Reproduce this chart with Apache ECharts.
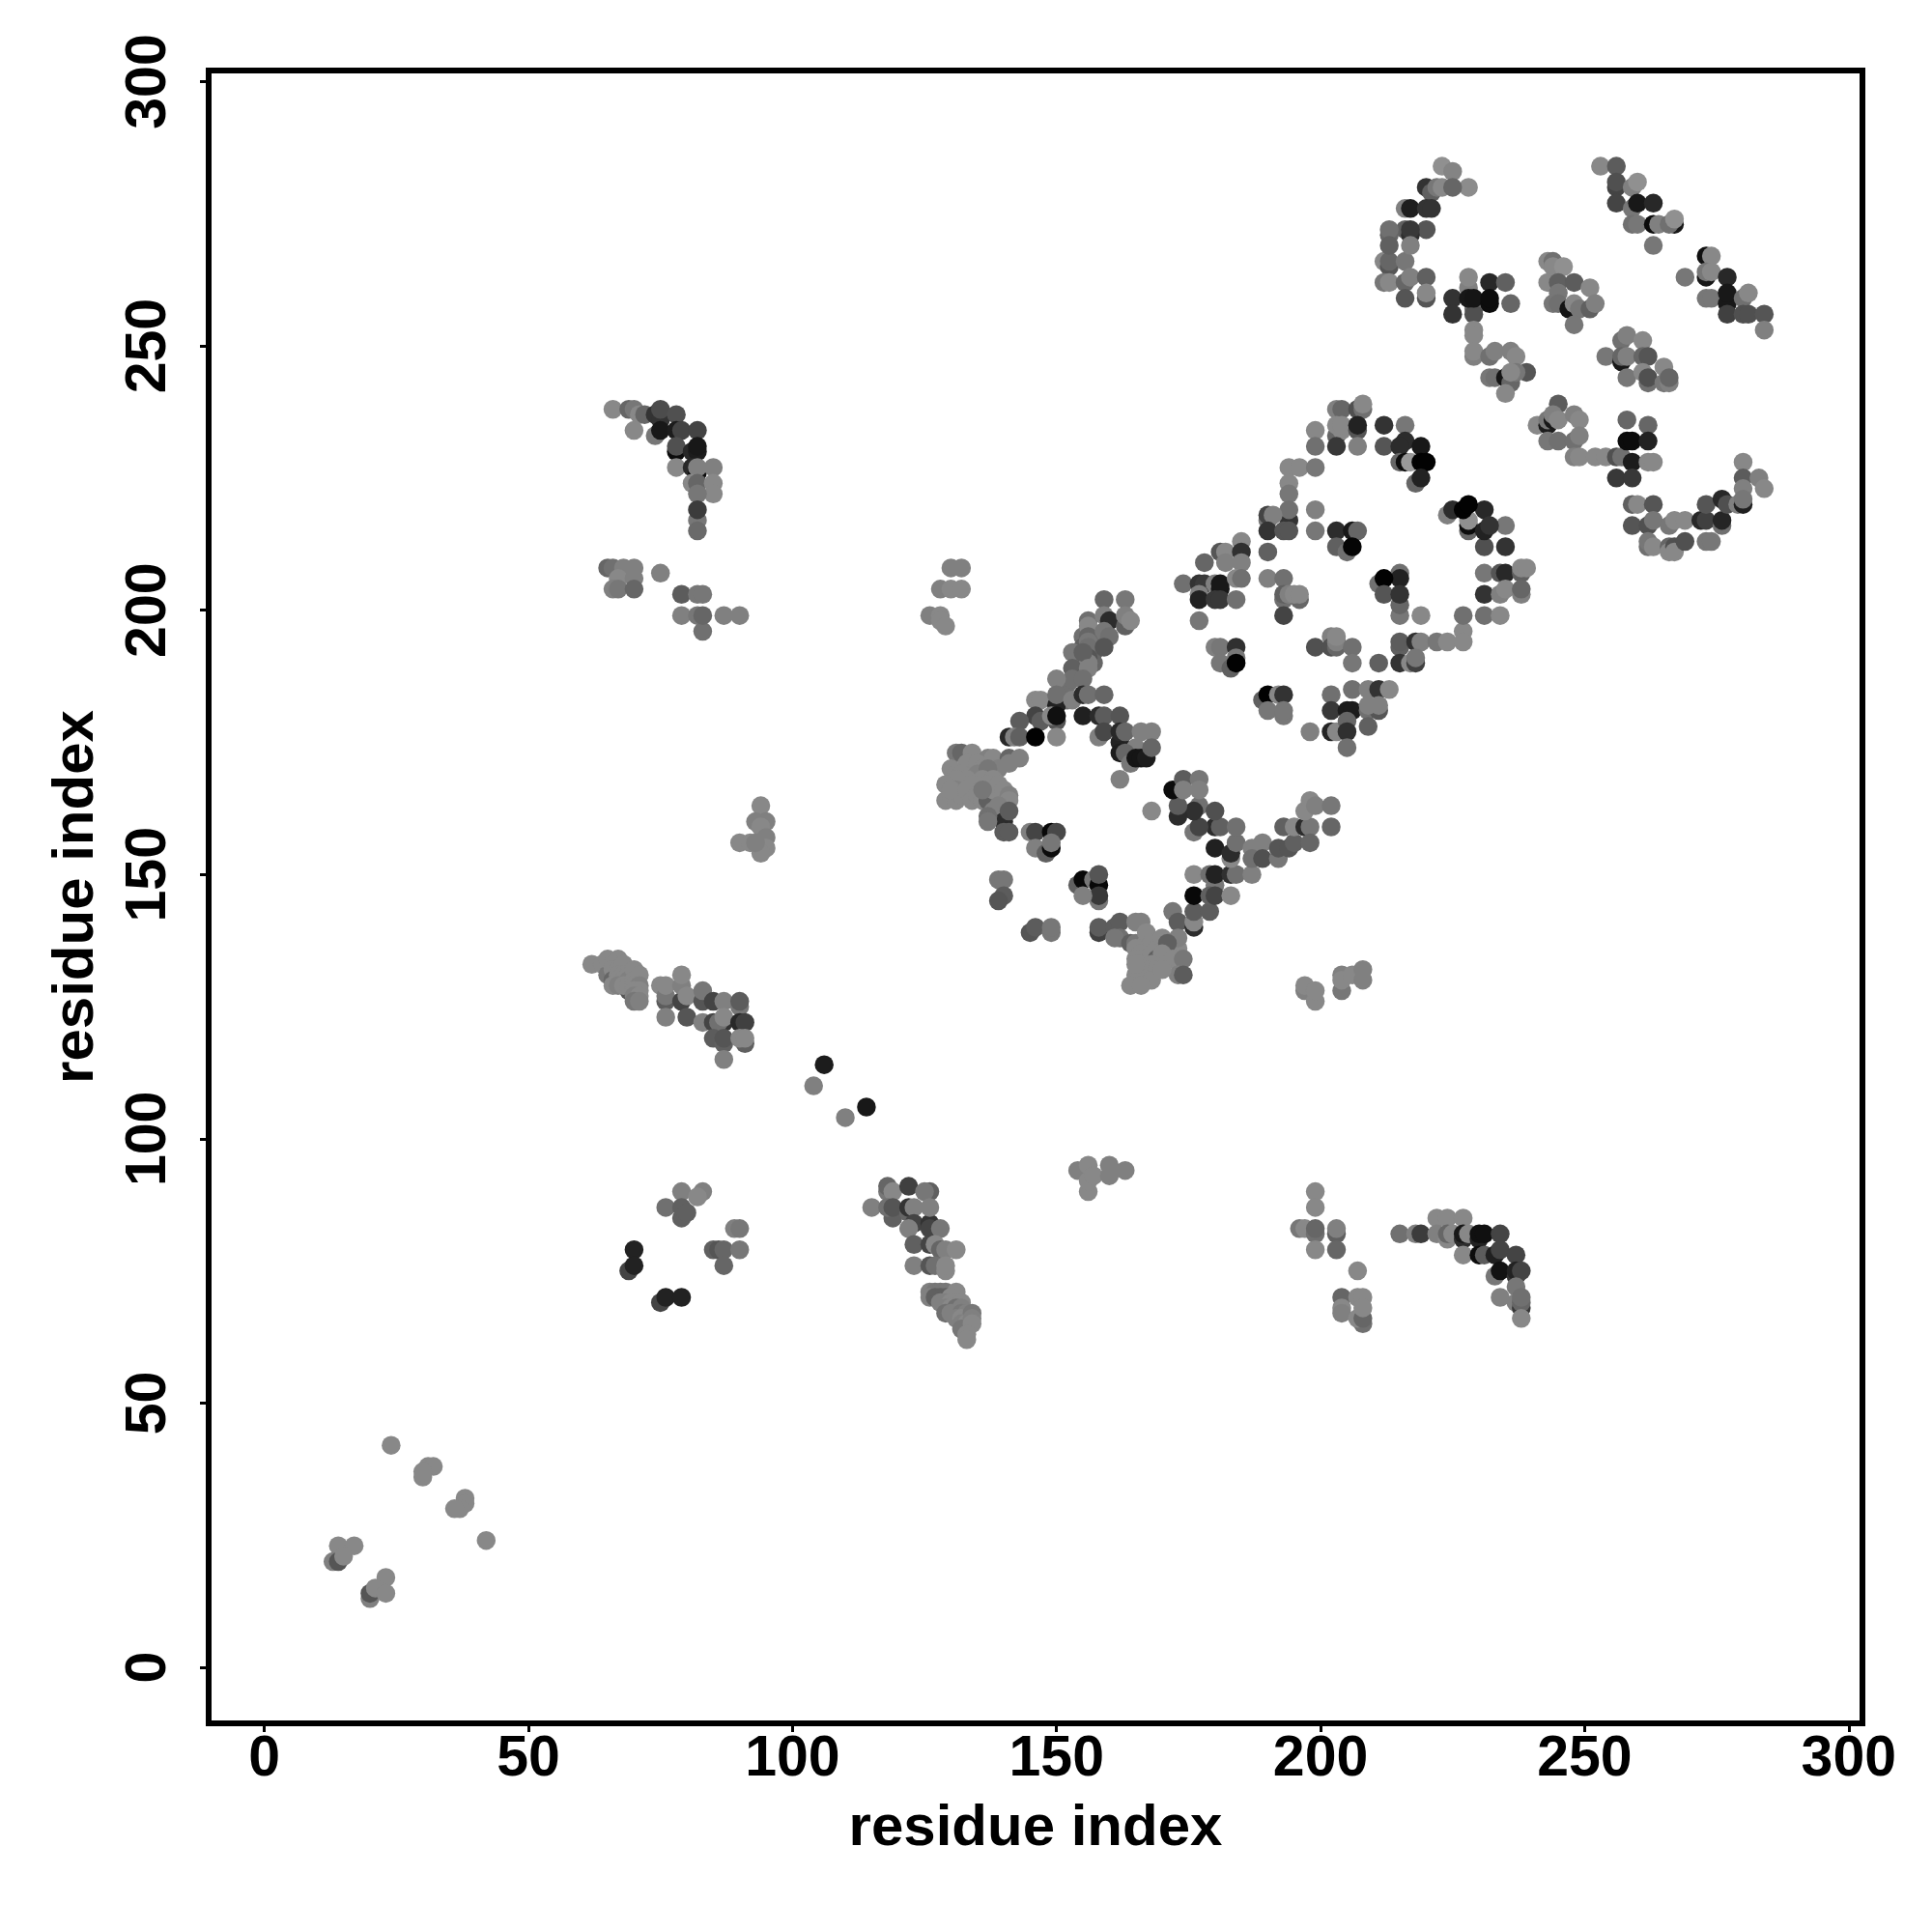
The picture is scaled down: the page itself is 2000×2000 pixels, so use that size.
<!DOCTYPE html>
<html><head><meta charset="utf-8">
<script src="https://cdn.jsdelivr.net/npm/echarts@6/dist/echarts.min.js"></script>
<style>html,body{margin:0;background:#fff}#c{width:2000px;height:2000px}</style></head>
<body><div id="c"></div>
<script>
// each contact: [residue x, residue y, grey shade 0-255]
const tickValues=[0,50,100,150,200,250,300];
const axisTitle='residue index';
const topLeftArc=[[223,284,0x90],[225,283,0x84],[228,280,0x8c],[220,280,0x33],[221,279,0x60],[222,280,0x77],[223,280,0x88],[225,280,0x66],[216,276,0x80],[217,276,0x1e],[220,276,0x33],[221,276,0x33],[220,272,0x55],[216,272,0x60],[217,271,0x2e],[217,272,0x38],[213,271,0x66],[213,272,0x70],[212,266,0x88],[213,265,0x55],[213,266,0x66],[213,269,0x60],[216,266,0x77],[217,269,0x80],[212,262,0x77],[213,262,0x88],[216,262,0x66],[217,263,0x80],[220,263,0x60],[216,259,0x55],[220,259,0x55],[220,260,0x88]];
const topMidLink=[[225,259,0x33],[225,256,0x33],[228,261,0x80],[228,263,0x88],[232,262,0x28],[235,262,0x60],[236,258,0x66],[229,257,0x70],[229,256,0x50],[228,259,0x18],[229,259,0x15],[232,258,0x0c],[232,259,0x0c],[229,253,0x88],[229,252,0x88],[229,248,0x80],[229,249,0x88],[232,248,0x70],[233,249,0x80],[236,249,0x80],[237,248,0x88],[239,245,0x55],[232,244,0x77],[233,244,0x70],[235,244,0x15],[236,243,0x66],[237,245,0x77],[236,245,0x88],[235,241,0x88]];
const topRightArc=[[253,284,0x88],[256,284,0x5c],[256,280,0x44],[256,281,0x50],[259,280,0x80],[260,281,0x90],[256,277,0x44],[259,276,0x77],[260,277,0x18],[263,277,0x28],[259,273,0x70],[260,273,0x77],[263,273,0x0c],[264,273,0x80],[267,273,0x18],[266,273,0x70],[267,274,0x90],[263,269,0x77]];
const midCluster=[[243,266,0x88],[244,266,0x70],[244,265,0x88],[246,265,0x90],[243,262,0x88],[245,262,0x60],[248,262,0x5c],[245,260,0x77],[251,261,0x88],[244,258,0x77],[245,258,0x70],[247,257,0x15],[248,258,0x88],[249,257,0x77],[251,257,0x60],[252,258,0x80],[248,254,0x77]];
const farRightArc=[[269,263,0x77],[273,267,0x10],[274,267,0x88],[273,263,0x18],[273,264,0x77],[274,264,0x88],[277,263,0x28],[273,259,0x77],[274,259,0x77],[277,258,0x18],[277,260,0x18],[280,259,0x70],[281,260,0x88],[277,256,0x40],[280,256,0x50],[281,256,0x50],[284,256,0x55],[284,253,0x80]];
const lowerCluster=[[257,251,0x70],[258,252,0x80],[261,251,0x88],[254,248,0x77],[257,247,0x18],[257,248,0x66],[258,248,0x80],[261,248,0x66],[262,248,0x55],[265,246,0x88],[258,244,0x77],[261,245,0x88],[262,243,0x70],[262,244,0x50],[265,243,0x77],[266,243,0x80],[266,244,0x66]];
const turnCluster=[[245,239,0x5c],[241,235,0x88],[243,235,0x1c],[243,236,0x77],[244,236,0x18],[244,237,0x80],[245,236,0x88],[248,237,0x80],[249,236,0x88],[243,232,0x77],[245,232,0x70],[248,232,0x70],[249,233,0x80],[248,229,0x80],[249,229,0x88],[252,229,0x88],[254,229,0x88],[256,229,0x50],[257,229,0x70],[258,236,0x66],[262,235,0x66],[258,232,0x0c],[259,232,0x0c],[262,232,0x22],[259,228,0x1c],[262,228,0x88],[263,228,0x88],[256,225,0x38],[259,225,0x38]];
const bottomRightArc=[[259,220,0x60],[260,220,0x88],[263,220,0x55],[259,216,0x55],[262,216,0x50],[263,217,0x77],[262,212,0x70],[262,213,0x77],[263,212,0x88],[266,212,0x66],[266,211,0x88],[267,212,0x50],[267,211,0x88],[269,213,0x50],[266,216,0x77],[267,217,0x88],[269,217,0x88],[272,217,0x28],[273,217,0x40],[273,213,0x77],[274,213,0x77],[273,220,0x55],[276,216,0x70],[276,217,0x25],[276,221,0x28],[277,220,0x50],[279,220,0x80],[280,228,0x88],[280,225,0x5c],[280,223,0x80],[280,220,0x20],[280,221,0x77],[283,225,0x80],[284,223,0x88]];
const ringTop=[[203,238,0x80],[204,238,0x66],[207,238,0x50],[208,238,0x70],[208,239,0x88],[199,234,0x88],[203,233,0x66],[203,235,0x88],[204,234,0x88],[204,235,0x88],[207,234,0x55],[207,235,0x22],[212,235,0x33],[216,235,0x77],[199,231,0x70],[203,231,0x38],[207,231,0x80],[212,231,0x55],[216,232,0x2c],[215,231,0x2c],[219,231,0x18],[215,228,0x66],[216,228,0x0c],[217,228,0x99],[219,228,0x02],[220,228,0x02],[218,224,0x66],[219,225,0x22]];
const ringLeft=[[194,227,0x88],[196,227,0x88],[199,227,0x77],[194,224,0x88],[194,222,0x77],[194,217,0x33],[194,219,0x70],[190,217,0x77],[190,218,0x44],[191,218,0x80],[190,215,0x33],[193,215,0x55],[194,215,0x55],[199,219,0x80],[199,215,0x77],[203,215,0x2c],[206,215,0x18],[207,215,0x66],[203,212,0x60],[205,211,0x70],[206,212,0x05],[190,211,0x60],[185,213,0x88],[181,211,0x55],[182,211,0x88],[185,211,0x30],[185,209,0x80],[182,209,0x80],[178,209,0x66],[174,205,0x70],[177,205,0x33],[178,205,0x3a],[180,205,0x80],[181,204,0x18],[181,205,0x18],[184,206,0x88],[185,206,0x70],[177,203,0x80],[177,202,0x22],[180,202,0x38],[181,202,0x38],[184,202,0x70],[177,198,0x77],[190,206,0x80],[193,206,0x70],[193,202,0x70],[193,203,0x60],[194,203,0x80],[196,202,0x66],[195,203,0x88],[196,203,0x88],[193,199,0x44]];
const ringBottom=[[180,193,0x80],[181,193,0x77],[184,193,0x30],[184,191,0x77],[181,190,0x77],[183,189,0x60],[184,190,0x02],[199,193,0x50],[202,195,0x80],[202,193,0x50],[203,193,0x66],[203,194,0x80],[203,195,0x88],[206,193,0x70],[206,190,0x77],[211,190,0x60],[215,193,0x60],[215,194,0x5c],[218,194,0x30],[219,194,0x80],[222,194,0x77],[224,194,0x88],[227,196,0x88],[227,194,0x88],[227,199,0x70],[215,199,0x77],[219,199,0x88],[231,199,0x70],[234,199,0x88],[215,190,0x33],[217,190,0x88],[218,190,0x40],[218,191,0x77]];
const ringRight=[[231,207,0x77],[234,207,0x55],[235,207,0x28],[238,207,0x60],[238,208,0x88],[239,208,0x88],[231,203,0x33],[234,203,0x80],[235,204,0x88],[238,203,0x80],[238,204,0x66],[235,216,0x77],[235,212,0x33],[231,212,0x50],[231,219,0x28],[224,218,0x80],[225,219,0x2c],[228,215,0x66],[228,216,0x0c],[228,217,0x90],[227,219,0x02],[228,220,0x02],[231,215,0x22],[232,216,0x33]];
const ringInner=[[215,207,0x70],[215,206,0x22],[211,205,0x70],[212,206,0x02],[212,203,0x55],[215,201,0x66],[215,203,0x33]];
const ringFoot=[[189,183,0x60],[190,184,0x02],[192,184,0x88],[193,184,0x33],[190,181,0x77],[193,180,0x77],[193,181,0x77],[202,184,0x70],[206,185,0x70],[209,185,0x80],[211,185,0x33],[213,185,0x88],[202,181,0x38],[205,181,0x1c],[206,181,0x1c],[209,181,0x70],[211,181,0x55],[209,182,0x80],[211,182,0x80],[202,177,0x25],[203,177,0x88],[205,179,0x66],[205,177,0x30],[209,178,0x60],[198,177,0x80],[205,174,0x70]];
const diagUp=[[159,202,0x66],[163,202,0x77],[156,198,0x70],[159,199,0x80],[160,198,0x2c],[163,197,0x60],[163,199,0x80],[164,198,0x88],[155,195,0x70],[155,193,0x60],[154,190,0x66],[157,195,0x70],[157,192,0x60],[157,190,0x66],[154,188,0x60],[152,186,0x70],[152,183,0x70],[156,197,0x88],[156,195,0x66],[156,194,0x77],[156,193,0x70],[156,191,0x55],[156,190,0x80],[159,196,0x77],[160,195,0x70],[159,193,0x55],[153,192,0x77],[155,192,0x60],[153,189,0x60],[156,189,0x80],[153,187,0x70],[155,187,0x70],[150,187,0x80],[146,183,0x88],[147,183,0x88],[150,182,0x22],[150,184,0x70],[153,183,0x80],[155,184,0x2c],[156,184,0x70],[159,184,0x66],[146,180,0x44],[147,179,0x5c],[143,179,0x5c],[150,179,0x55],[149,180,0x88],[150,180,0x10],[155,180,0x20],[158,180,0x2c],[159,180,0x5c],[162,180,0x55],[141,176,0x28],[142,176,0x80],[143,176,0x60],[146,176,0x02],[150,176,0x88],[158,176,0x80],[159,177,0x48],[162,175,0x22],[162,177,0x28],[163,177,0x66],[166,177,0x80],[168,177,0x80],[165,174,0x80],[162,173,0x1c],[163,173,0x66],[164,171,0x77],[165,172,0x15],[166,172,0x15],[167,172,0x1c],[168,174,0x66],[162,168,0x80],[168,162,0x88]];
const leftBlob=[[131,173,0x77],[132,173,0x66],[134,173,0x88],[137,172,0x80],[138,172,0x88],[141,172,0x66],[143,172,0x80],[133,171,0x88],[135,171,0x88],[136,170,0x88],[138,170,0x88],[141,171,0x80],[139,170,0x80],[130,170,0x88],[131,169,0x88],[132,169,0x88],[134,168,0x66],[135,169,0x80],[137,170,0x77],[133,168,0x88],[136,168,0x88],[138,168,0x88],[131,168,0x88],[134,167,0x88],[129,167,0x88],[131,166,0x80],[129,164,0x88],[130,165,0x88],[131,164,0x88],[132,165,0x88],[130,166,0x88],[133,166,0x88],[134,164,0x88],[135,165,0x88],[136,164,0x88],[137,164,0x60],[137,167,0x88],[139,167,0x88],[138,166,0x88],[140,166,0x88],[141,165,0x80],[141,164,0x88],[136,166,0x77],[139,163,0x80],[138,162,0x80],[140,160,0x2c],[141,162,0x5c],[137,161,0x70],[137,160,0x77],[140,158,0x5c],[141,158,0x5c]];
const leftSmall=[[145,158,0x80],[146,158,0x44],[149,158,0x08],[150,158,0x48],[146,155,0x80],[148,154,0x60],[149,155,0x0c],[149,156,0x77],[139,149,0x77],[140,149,0x77],[140,146,0x5c],[139,145,0x55],[145,139,0x55],[146,140,0x5c],[149,139,0x77],[149,140,0x77],[154,148,0x60],[155,149,0x08],[157,149,0x77],[158,148,0x08],[158,150,0x55],[158,145,0x77],[158,146,0x38],[155,146,0x80]];
const bottomBlob=[[158,139,0x40],[158,140,0x5c],[161,140,0x5c],[162,141,0x5c],[165,141,0x80],[166,141,0x80],[162,138,0x70],[161,138,0x77],[164,137,0x60],[165,137,0x77],[167,137,0x88],[167,139,0x88],[168,137,0x88],[169,136,0x88],[165,136,0x88],[166,135,0x88],[165,134,0x88],[168,135,0x88],[170,138,0x88],[172,143,0x77],[173,141,0x5c],[176,140,0x2c],[176,141,0x88],[176,143,0x5c],[179,143,0x5c],[172,136,0x80],[171,136,0x55],[173,136,0x88],[173,138,0x80],[171,137,0x60],[169,134,0x60],[171,134,0x88],[170,135,0x88],[172,134,0x88],[166,133,0x88],[168,133,0x88],[167,132,0x88],[169,132,0x88],[165,131,0x88],[174,134,0x77],[173,131,0x80],[174,131,0x5c],[165,133,0x88],[168,130,0x88],[170,132,0x88],[164,129,0x88],[166,129,0x88]];
const rightChain=[[176,146,0x08],[176,150,0x88],[179,150,0x70],[180,148,0x77],[180,150,0x22],[183,150,0x30],[184,150,0x70],[187,150,0x80],[179,146,0x60],[180,146,0x44],[183,146,0x88],[183,153,0x88],[180,155,0x20],[183,154,0x2c],[184,156,0x70],[180,159,0x2c],[181,159,0x60],[184,159,0x70],[176,158,0x77],[177,159,0x44],[177,163,0x70],[180,162,0x50],[176,162,0x30],[173,161,0x2c],[173,163,0x5c],[172,166,0x0c],[174,168,0x5c],[177,168,0x77],[174,166,0x80],[177,166,0x80],[187,155,0x80],[187,153,0x70],[189,156,0x80],[189,153,0x50],[192,153,0x77],[192,155,0x55],[193,159,0x60],[194,155,0x55],[195,156,0x60],[195,159,0x88],[197,159,0x2c],[198,159,0x77],[198,156,0x66],[197,162,0x88],[198,164,0x88],[199,163,0x80],[202,163,0x77],[202,159,0x66]];
const g130_203=[[130,208,0x80],[132,208,0x80],[128,204,0x80],[130,204,0x88],[132,204,0x88],[126,199,0x80],[128,199,0x88],[128,198,0x88],[129,197,0x88]];
const topLeftBand=[[66,238,0x88],[69,238,0x66],[70,238,0x77],[71,237,0x88],[72,237,0x66],[70,234,0x88],[74,237,0x33],[75,236,0x33],[75,238,0x4c],[78,237,0x50],[74,233,0x77],[75,234,0x18],[78,234,0x1c],[79,234,0x44],[82,234,0x44],[78,230,0x0c],[78,231,0x50],[81,230,0x28],[82,230,0x1c],[82,231,0x18],[78,227,0x88],[81,227,0x28],[82,226,0x0c],[82,227,0x80],[85,227,0x80],[81,224,0x88],[82,224,0x66],[85,224,0x88],[85,222,0x88],[82,222,0x77],[82,217,0x77],[82,219,0x3c],[82,215,0x6a]];
const leftMid=[[65,208,0x66],[66,208,0x70],[68,208,0x80],[70,208,0x80],[67,206,0x88],[70,206,0x80],[66,204,0x80],[67,204,0x77],[70,204,0x66],[75,207,0x80],[79,203,0x5c],[82,203,0x77],[83,203,0x77],[79,199,0x80],[82,199,0x77],[83,196,0x70],[83,199,0x66],[87,199,0x80],[90,199,0x80]];
const midGroup=[[94,163,0x88],[93,160,0x80],[95,160,0x80],[94,159,0x88],[90,156,0x88],[92,156,0x88],[95,157,0x80],[95,155,0x88],[94,154,0x88],[93,156,0x80]];
const band130=[[62,133,0x88],[64,133,0x88],[65,131,0x77],[66,131,0x77],[65,134,0x88],[67,134,0x88],[66,133,0x88],[66,132,0x88],[67,132,0x88],[66,130,0x66],[68,133,0x88],[67,131,0x88],[68,131,0x88],[66,129,0x88],[67,130,0x88],[68,130,0x88],[69,131,0x88],[69,130,0x80],[69,128,0x55],[67,129,0x80],[68,129,0x88],[69,129,0x88],[70,132,0x88],[70,130,0x88],[71,131,0x88],[70,129,0x88],[71,129,0x80],[70,128,0x88],[71,128,0x88],[70,127,0x80],[71,127,0x88],[70,126,0x77],[71,126,0x80],[75,129,0x88],[76,126,0x5c],[76,127,0x77],[76,129,0x88],[76,123,0x80],[79,126,0x44],[79,129,0x80],[79,131,0x88],[80,127,0x88],[80,123,0x55],[83,126,0x55],[83,128,0x77],[85,126,0x44],[87,126,0x80],[90,125,0x77],[90,126,0x5c],[83,122,0x80],[85,122,0x44],[87,122,0x33],[86,122,0x70],[87,123,0x88],[90,122,0x28],[91,122,0x40],[85,119,0x5c],[87,118,0x60],[87,119,0x55],[91,118,0x60],[90,119,0x88],[91,119,0x88],[87,115,0x80]];
const diagonal=[[106,114,0x1c],[104,110,0x80],[110,104,0x80],[114,106,0x18]];
const lowCenter=[[118,90,0x77],[118,91,0x66],[119,90,0x88],[122,91,0x40],[126,90,0x60],[125,90,0x77],[115,87,0x80],[119,85,0x60],[118,87,0x70],[119,87,0x55],[122,86,0x66],[122,87,0x33],[123,87,0x80],[123,84,0x44],[126,84,0x33],[126,87,0x80],[122,83,0x80],[126,83,0x44],[128,83,0x77],[123,80,0x60],[126,80,0x44],[127,80,0x88],[128,79,0x66],[129,79,0x80],[131,79,0x88],[123,76,0x80],[126,76,0x55],[127,76,0x70],[129,75,0x88],[129,76,0x88]];
const lowFan=[[126,71,0x80],[127,71,0x77],[128,71,0x77],[129,71,0x77],[131,71,0x88],[126,70,0x80],[127,70,0x60],[128,70,0x60],[129,70,0x60],[130,70,0x88],[128,69,0x80],[129,69,0x80],[130,69,0x88],[131,69,0x88],[132,69,0x88],[129,68,0x80],[130,68,0x88],[131,68,0x70],[132,68,0x80],[129,67,0x70],[130,67,0x80],[132,67,0x77],[133,67,0x80],[131,66,0x80],[132,66,0x88],[133,66,0x88],[134,67,0x77],[132,65,0x80],[133,65,0x88],[133,64,0x88],[134,66,0x80],[132,64,0x77],[134,65,0x88],[133,63,0x88],[133,62,0x88]];
const lowLeft=[[70,79,0x22],[69,75,0x44],[70,76,0x22],[75,69,0x44],[76,70,0x22],[79,70,0x22],[76,87,0x70],[79,90,0x80],[79,85,0x60],[79,87,0x60],[80,86,0x60],[83,90,0x80],[82,89,0x88],[89,83,0x80],[90,83,0x77],[85,79,0x60],[86,79,0x55],[87,79,0x66],[90,79,0x77],[87,76,0x66]];
const group155=[[154,94,0x80],[156,90,0x88],[156,92,0x88],[156,95,0x88],[157,93,0x88],[160,93,0x80],[160,95,0x80],[163,94,0x80]];
const group200=[[197,128,0x80],[197,129,0x88],[199,126,0x88],[199,128,0x88],[204,128,0x77],[204,131,0x80],[204,130,0x88],[206,131,0x88],[208,132,0x80],[208,130,0x80]];
const lowRight=[[199,90,0x88],[199,87,0x88],[196,83,0x77],[197,83,0x88],[199,82,0x70],[199,83,0x66],[203,82,0x60],[203,83,0x80],[199,79,0x88],[203,79,0x66],[207,75,0x88],[204,70,0x66],[204,68,0x88],[204,67,0x80],[207,70,0x88],[208,70,0x88],[208,65,0x70],[207,66,0x88],[208,66,0x66],[208,68,0x88]];
const lowArc=[[215,82,0x70],[218,82,0x80],[219,82,0x3c],[222,85,0x88],[224,85,0x88],[227,85,0x88],[222,82,0x80],[224,81,0x88],[224,82,0x66],[225,82,0x88],[227,81,0x2c],[227,82,0x18],[228,82,0x88],[230,81,0x22],[230,82,0x10],[231,82,0x10],[234,82,0x44],[227,78,0x88],[230,78,0x0c],[231,78,0x5c],[233,78,0x20],[234,79,0x44],[237,78,0x44],[233,74,0x77],[234,75,0x12],[237,74,0x33],[237,75,0x22],[238,75,0x44],[234,70,0x80],[237,72,0x77],[237,69,0x80],[238,68,0x38],[238,69,0x66],[238,70,0x70],[238,66,0x88]];
const bottomLeft=[[24,42,0x88],[31,38,0x88],[32,38,0x88],[30,36,0x88],[30,37,0x88],[38,32,0x88],[38,31,0x88],[37,30,0x88],[36,30,0x88],[42,24,0x88],[14,23,0x88],[17,23,0x88],[13,20,0x80],[14,20,0x55],[15,21,0x88],[23,17,0x88],[20,13,0x80],[20,14,0x55],[21,15,0x88],[23,14,0x88]];

const regions=[topLeftArc,topMidLink,topRightArc,midCluster,farRightArc,lowerCluster,turnCluster,bottomRightArc,ringTop,ringLeft,ringBottom,ringRight,ringInner,ringFoot,diagUp,leftBlob,leftSmall,bottomBlob,rightChain,g130_203,topLeftBand,leftMid,midGroup,band130,diagonal,lowCenter,lowFan,lowLeft,group155,group200,lowRight,lowArc,bottomLeft];

const font='"Liberation Sans", Arial, sans-serif';
const shade=p=>{const g=p.value[2];return 'rgb('+g+','+g+','+g+')';};
const labelStyle={color:'#000',fontFamily:font,fontWeight:'bold',fontSize:59,customValues:tickValues,showMinLabel:true,showMaxLabel:true,hideOverlap:false};
const axis=(extra)=>Object.assign({
  type:'value',name:axisTitle,nameLocation:'middle',
  nameTextStyle:{color:'#000',fontFamily:font,fontWeight:'bold',fontSize:60},
  splitLine:{show:false},
  axisLine:{show:false,onZero:false},
  axisTick:{show:true,inside:false,length:9,lineStyle:{color:'#000',width:3},customValues:tickValues}
},extra);
const chart=echarts.init(document.getElementById('c'),null,{renderer:'canvas'});
chart.setOption({
  animation:false,backgroundColor:'#fff',
  grid:{left:216,top:73,width:1712,height:1711,show:true,borderColor:'#000',borderWidth:6,backgroundColor:'transparent',containLabel:false},
  xAxis:axis({min:-10.55,max:302.6,nameGap:79,axisLabel:Object.assign({},labelStyle,{margin:8})}),
  yAxis:axis({min:-10.6,max:302.1,nameGap:107,nameRotate:90,axisLabel:Object.assign({},labelStyle,{margin:32,rotate:90})}),
  series:regions.map(d=>({type:'scatter',data:d,symbol:'circle',symbolSize:19.5,large:false,itemStyle:{color:shade,opacity:1},emphasis:{disabled:true}}))
});
</script></body></html>
